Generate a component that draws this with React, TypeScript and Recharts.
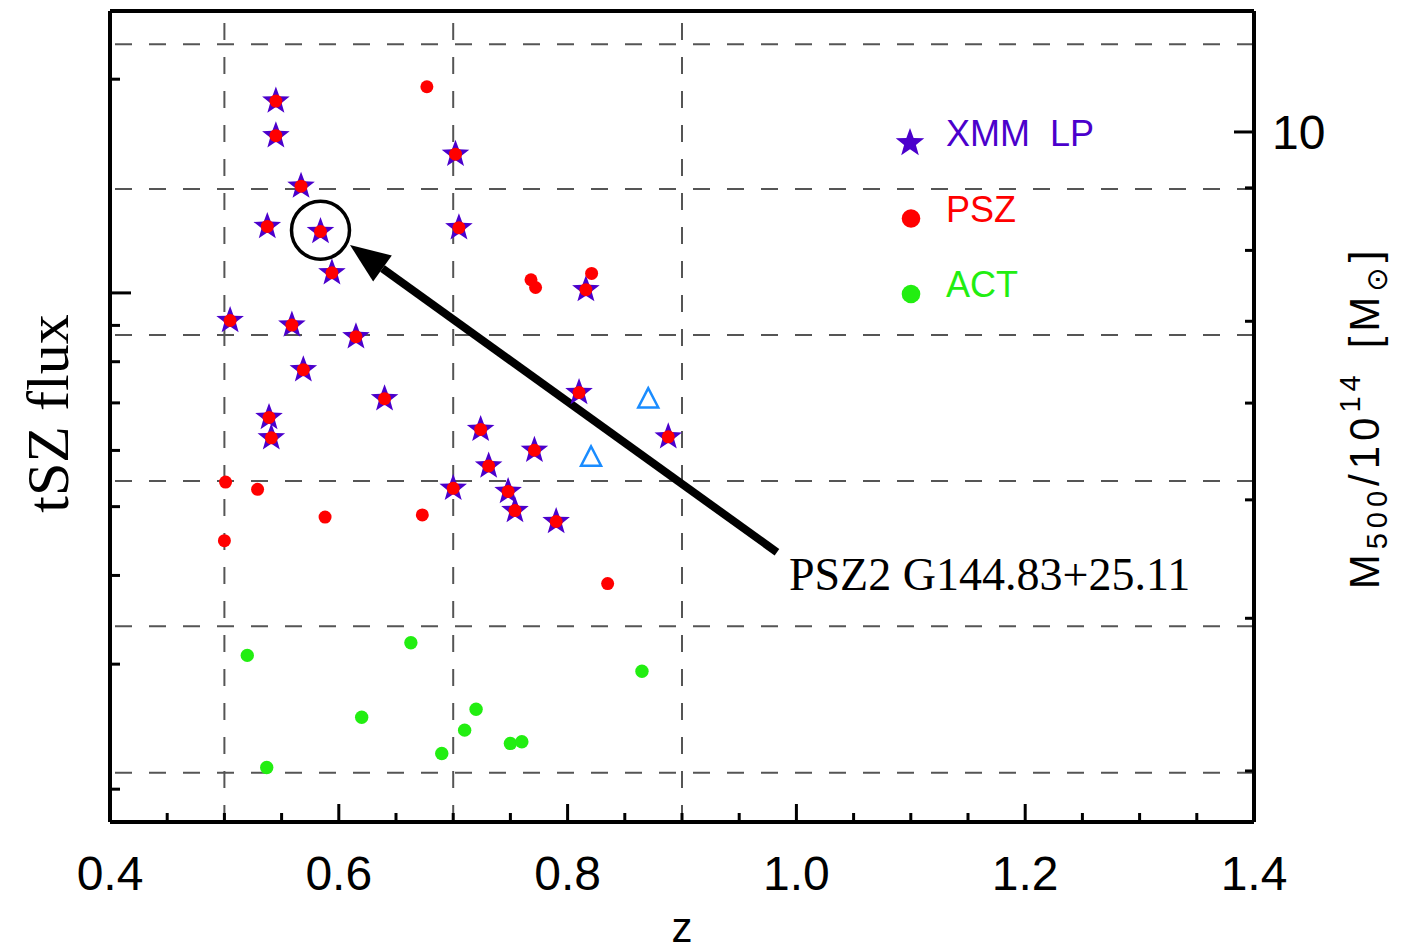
// Aglomerados de galáxias: z vs M500 (escala log), com anotação do PSZ2 G144.83+25.11.
import React from "react";
import {
  ScatterChart, Scatter, XAxis, YAxis, ReferenceLine, ReferenceDot, Legend, Label,
} from "recharts";

type Ponto = { z: number; m: number };

// M500 / 1e14 Msun (eixo direito)
const xmmLP: Ponto[] = [
  { z: 0.545, m: 10.6 }, { z: 0.545, m: 9.93 }, { z: 0.567, m: 9.03 }, { z: 0.5375, m: 8.37 },
  { z: 0.584, m: 8.29 }, { z: 0.594, m: 7.67 }, { z: 0.702, m: 9.59 }, { z: 0.705, m: 8.35 },
  { z: 0.505, m: 7.01 }, { z: 0.559, m: 6.95 }, { z: 0.615, m: 6.8 }, { z: 0.569, m: 6.39 },
  { z: 0.64, m: 6.05 }, { z: 0.539, m: 5.84 }, { z: 0.541, m: 5.62 }, { z: 0.724, m: 5.71 },
  { z: 0.731, m: 5.33 }, { z: 0.7, m: 5.11 }, { z: 0.816, m: 7.43 }, { z: 0.81, m: 6.12 },
  { z: 0.888, m: 5.63 }, { z: 0.771, m: 5.49 }, { z: 0.748, m: 5.08 }, { z: 0.754, m: 4.9 },
  { z: 0.79, m: 4.8 },
];

const pszSo: Ponto[] = [
  { z: 0.677, m: 10.89 }, { z: 0.768, m: 7.57 }, { z: 0.772, m: 7.46 }, { z: 0.821, m: 7.66 },
  { z: 0.501, m: 5.17 }, { z: 0.529, m: 5.1 }, { z: 0.588, m: 4.84 }, { z: 0.673, m: 4.86 },
  { z: 0.5, m: 4.63 }, { z: 0.835, m: 4.27 },
];

const act: Ponto[] = [
  { z: 0.52, m: 3.73 }, { z: 0.537, m: 3.02 }, { z: 0.62, m: 3.32 }, { z: 0.663, m: 3.82 },
  { z: 0.69, m: 3.1 }, { z: 0.71, m: 3.24 }, { z: 0.72, m: 3.37 }, { z: 0.75, m: 3.16 },
  { z: 0.76, m: 3.17 }, { z: 0.865, m: 3.62 },
];

const triangulos: Ponto[] = [{ z: 0.8705, m: 6.06 }, { z: 0.8205, m: 5.43 }];

// todo cluster XMM LP também é PSZ (ponto vermelho por cima da estrela)
const pszTodos: Ponto[] = [...pszSo, ...xmmLP];

const zDominio = [0.4, 1.4];
const mDominio = [2.725, 12.56];
const fluxDominio = [0.1798, 2.495];

const zTicks = [0.4, 0.45, 0.5, 0.55, 0.6, 0.65, 0.7, 0.75, 0.8, 0.85, 0.9, 0.95, 1.0, 1.05, 1.1, 1.15, 1.2, 1.25, 1.3, 1.35, 1.4];
const mTicks = [3, 4, 5, 6, 7, 8, 9, 10];
const fluxTicks = [0.2, 0.3, 0.4, 0.5, 0.6, 0.7, 0.8, 0.9, 1, 2];

const zGrade = [0.5, 0.7, 0.9];
const mGrade = [11.8, 8.98, 6.82, 5.18, 3.94, 2.99];

const circuloAlvo: Ponto = { z: 0.584, m: 8.31 };
const setaCauda: Ponto = { z: 0.983, m: 4.53 };
const setaPonta: Ponto = { z: 0.6098, m: 8.08 };
const rotuloAlvo: Ponto = { z: 0.9935, m: 4.22 };
const nomeAlvo = "PSZ2 G144.83+25.11";

const legenda = [
  { nome: "XMM  LP", cor: "#4B00CC", tipo: "estrela" },
  { nome: "PSZ", cor: "#FF0000", tipo: "ponto" },
  { nome: "ACT", cor: "#22EE11", tipo: "ponto" },
];

const ROXO = "#4B00CC";
const VERMELHO = "#FF0000";
const VERDE = "#22EE11";
const AZUL = "#1A8CFF";
const GRADE = "#555";
const SANS = "'Liberation Sans', Arial, 'DejaVu Sans', sans-serif";
const SERIF = "'Liberation Serif', 'Times New Roman', serif";

function pontasEstrela(cx: number, cy: number, R: number, r: number) {
  const pts: string[] = [];
  for (let i = 0; i < 10; i++) {
    const raio = i % 2 === 0 ? R : r;
    const a = -Math.PI / 2 + (i * Math.PI) / 5;
    pts.push(`${cx + raio * Math.cos(a)},${cy + raio * Math.sin(a)}`);
  }
  return pts.join(" ");
}

const Estrela = (props: any) => (
  <polygon points={pontasEstrela(props.cx, props.cy, 14.5, 6)} fill={ROXO} />
);
const PontoVermelho = (props: any) => <circle cx={props.cx} cy={props.cy} r={6.5} fill={VERMELHO} />;
const PontoVerde = (props: any) => <circle cx={props.cx} cy={props.cy} r={6.7} fill={VERDE} />;
const Triangulo = (props: any) => {
  const { cx, cy } = props;
  return (
    <polygon
      points={`${cx},${cy - 9.7} ${cx - 10},${cy + 9.7} ${cx + 10},${cy + 9.7}`}
      fill="none" stroke={AZUL} strokeWidth={2.5}
    />
  );
};

const ehMaior = (v: number) => Math.abs(v * 5 - Math.round(v * 5)) < 1e-6;

const TickBaixo = ({ x, y, payload }: any) => {
  const maior = ehMaior(payload.value);
  return (
    <g>
      <line x1={x} x2={x} y1={y} y2={y - (maior ? 18 : 9)} stroke="#000" strokeWidth={3} />
      {maior && (
        <text x={x} y={y + 68} textAnchor="middle" fontSize={48} fontFamily={SANS} fill="#000">
          {payload.value.toFixed(1)}
        </text>
      )}
    </g>
  );
};

const TickTopo = ({ x, y, payload }: any) => {
  const maior = ehMaior(payload.value);
  return <line x1={x} x2={x} y1={y} y2={y + (maior ? 18 : 9)} stroke="#000" strokeWidth={3} />;
};

const TickFlux = ({ x, y, payload }: any) => (
  <line x1={x} x2={x + (payload.value === 1 ? 21 : 10)} y1={y} y2={y} stroke="#000" strokeWidth={3} />
);

const TickMassa = ({ x, y, payload }: any) => {
  const maior = payload.value === 10;
  return (
    <g>
      <line x1={x} x2={x - (maior ? 20 : 9)} y1={y} y2={y} stroke="#000" strokeWidth={3} />
      {maior && (
        <text x={x + 18} y={y + 17} fontSize={48} fontFamily={SANS} fill="#000">10</text>
      )}
    </g>
  );
};

const Seta = (props: any) => {
  const { x1, y1, x2, y2 } = props;
  const ang = Math.atan2(y2 - y1, x2 - x1);
  const comp = 40;
  const meia = 16;
  const bx = x2 - comp * Math.cos(ang);
  const by = y2 - comp * Math.sin(ang);
  const px = -Math.sin(ang) * meia;
  const py = Math.cos(ang) * meia;
  return (
    <g>
      <line x1={x1} y1={y1} x2={bx} y2={by} stroke="#000" strokeWidth={8} />
      <polygon points={`${x2},${y2} ${bx + px},${by + py} ${bx - px},${by - py}`} fill="#000" />
    </g>
  );
};

const TextoAlvo = (props: any) => (
  <text x={props.cx} y={props.cy} fontSize={46} fontFamily={SERIF} fill="#000">{nomeAlvo}</text>
);

const TituloZ = (props: any) => {
  const vb = props.viewBox || { x: 102, y: 814, width: 1144, height: 1 };
  return (
    <text x={vb.x + vb.width / 2} y={vb.y + 120} textAnchor="middle" fontSize={42} fontFamily={SANS} fill="#000">z</text>
  );
};

const TituloFlux = (props: any) => {
  const vb = props.viewBox || { x: 101, y: 3, width: 1, height: 811 };
  const cx = vb.x - 41;
  const cy = vb.y + vb.height / 2 - 3;
  return (
    <text x={cx} y={cy} transform={`rotate(-90 ${cx} ${cy})`} textAnchor="middle" fontSize={60} fontFamily={SERIF} fill="#000">
      tSZ flux
    </text>
  );
};

const TituloMassa = (props: any) => {
  const vb = props.viewBox || { x: 1246, y: 3, width: 1, height: 811 };
  const cx = vb.x + 125;
  const cy = vb.y + vb.height / 2 + 1;
  return (
    <text x={cx} y={cy} transform={`rotate(-90 ${cx} ${cy})`} textAnchor="middle" fontSize={42} fontFamily={SANS} fill="#000" letterSpacing={5}>
      M<tspan fontSize={29} dy={8}>500</tspan>
      <tspan dy={-8}>/10</tspan>
      <tspan fontSize={29} dy={-19}>14</tspan>
      <tspan dy={19} dx={22}>[M</tspan>
      <tspan fontSize={29} dy={8}>⊙</tspan>
      <tspan dy={-8}>]</tspan>
    </text>
  );
};

const CaixaLegenda = () => (
  <svg width={260} height={220} style={{ display: "block" }}>
    {legenda.map((item, i) => {
      const cy = 43 + i * 75.5;
      return (
        <g key={item.nome}>
          {item.tipo === "estrela" ? (
            <polygon points={pontasEstrela(30, cy, 15, 6.2)} fill={item.cor} />
          ) : (
            <circle cx={31} cy={cy} r={9.3} fill={item.cor} />
          )}
          <text x={66} y={cy + 3} fontSize={36} fontFamily={SANS} fill={item.cor} style={{ whiteSpace: "pre" }}>
            {item.nome}
          </text>
        </g>
      );
    })}
  </svg>
);

export default function App() {
  return (
    <ScatterChart width={1390} height={943} margin={{ top: 2, right: 143, bottom: 128, left: 101 }}>
      <XAxis
        xAxisId="z" dataKey="z" type="number" domain={zDominio} ticks={zTicks} interval={0}
        height={1} tickSize={0} tickMargin={0} tickLine={false} tick={<TickBaixo />}
        axisLine={{ stroke: "#000", strokeWidth: 4 }} allowDataOverflow
      >
        <Label content={<TituloZ />} />
      </XAxis>
      <XAxis
        xAxisId="topo" orientation="top" type="number" domain={zDominio} ticks={zTicks} interval={0}
        height={1} tickSize={0} tickMargin={0} tickLine={false} tick={<TickTopo />}
        axisLine={{ stroke: "#000", strokeWidth: 4 }} allowDataOverflow
      />
      <YAxis
        yAxisId="flux" type="number" scale="log" domain={fluxDominio} ticks={fluxTicks} interval={0}
        width={1} tickSize={0} tickMargin={0} tickLine={false} tick={<TickFlux />}
        axisLine={{ stroke: "#000", strokeWidth: 4 }} allowDataOverflow
      >
        <Label content={<TituloFlux />} />
      </YAxis>
      <YAxis
        yAxisId="m" dataKey="m" orientation="right" type="number" scale="log" domain={mDominio} ticks={mTicks} interval={0}
        width={1} tickSize={0} tickMargin={0} tickLine={false} tick={<TickMassa />}
        axisLine={{ stroke: "#000", strokeWidth: 4 }} allowDataOverflow
      >
        <Label content={<TituloMassa />} />
      </YAxis>

      {zGrade.map((z) => (
        <ReferenceLine key={`gz${z}`} xAxisId="z" yAxisId="m" x={z} stroke={GRADE} strokeWidth={2} strokeDasharray="17 17" />
      ))}
      {mGrade.map((m) => (
        <ReferenceLine key={`gm${m}`} xAxisId="z" yAxisId="m" y={m} stroke={GRADE} strokeWidth={2} strokeDasharray="17 17" />
      ))}

      <Scatter name="XMM LP" data={xmmLP} xAxisId="z" yAxisId="m" shape={<Estrela />} isAnimationActive={false} />
      <Scatter name="PSZ" data={pszTodos} xAxisId="z" yAxisId="m" shape={<PontoVermelho />} isAnimationActive={false} />
      <Scatter name="ACT" data={act} xAxisId="z" yAxisId="m" shape={<PontoVerde />} isAnimationActive={false} />
      <Scatter name="outros" data={triangulos} xAxisId="z" yAxisId="m" shape={<Triangulo />} isAnimationActive={false} />

      <ReferenceDot
        xAxisId="z" yAxisId="m" x={circuloAlvo.z} y={circuloAlvo.m} r={29}
        fill="none" stroke="#000" strokeWidth={3.5} ifOverflow="visible"
      />
      <ReferenceLine
        xAxisId="z" yAxisId="m" ifOverflow="visible"
        segment={[{ x: setaCauda.z, y: setaCauda.m }, { x: setaPonta.z, y: setaPonta.m }]}
        shape={<Seta />}
      />
      <ReferenceDot xAxisId="z" yAxisId="m" x={rotuloAlvo.z} y={rotuloAlvo.m} r={0} ifOverflow="visible" shape={<TextoAlvo />} />

      <Legend
        layout="vertical" align="center" verticalAlign="middle"
        wrapperStyle={{ position: "absolute", left: 872, top: 92, width: 260, height: 220 }}
        content={() => <CaixaLegenda />}
      />
    </ScatterChart>
  );
}
